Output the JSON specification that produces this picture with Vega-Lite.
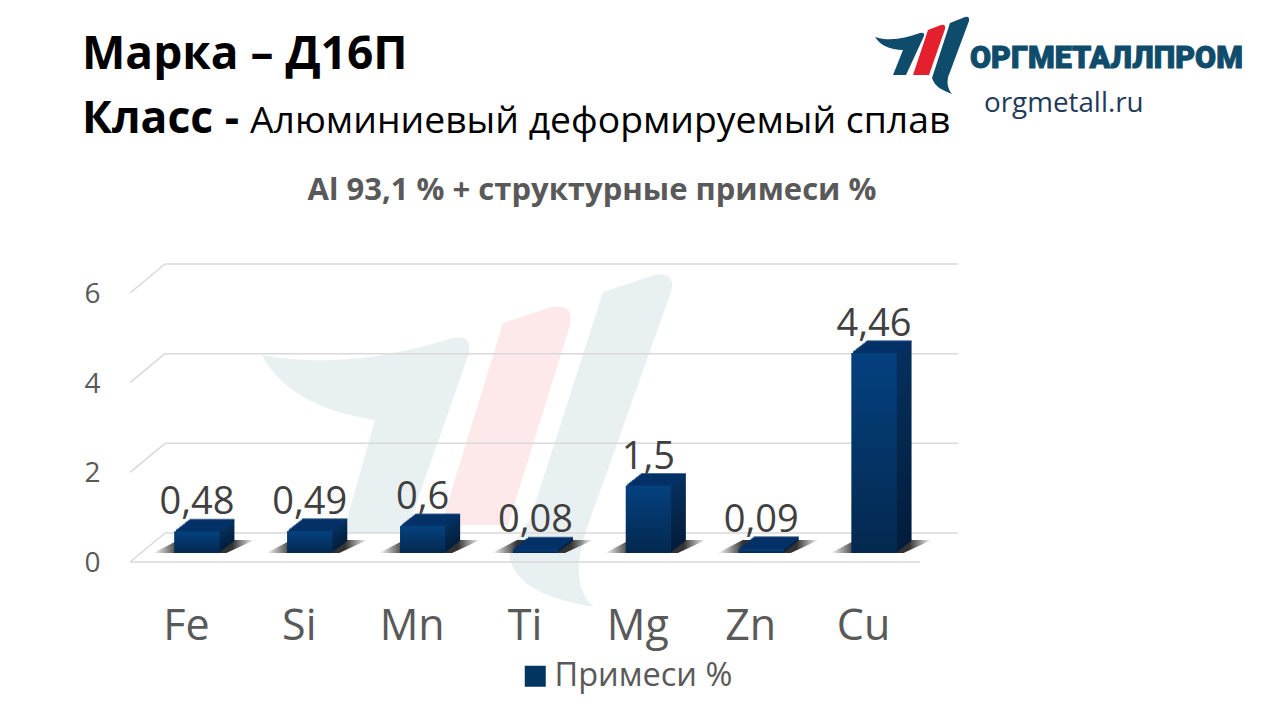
{"$schema":"https://vega.github.io/schema/vega-lite/v6.json","width":790,"height":269,"autosize":{"type":"none"},"padding":{"left":130,"top":293,"right":360,"bottom":158},"background":"#ffffff","view":{"stroke":null},
"datasets":{"d":[{"element":"Fe","value":0.48,"label":"0,48"},{"element":"Si","value":0.49,"label":"0,49"},{"element":"Mn","value":0.6,"label":"0,6"},{"element":"Ti","value":0.08,"label":"0,08"},{"element":"Mg","value":1.5,"label":"1,5"},{"element":"Zn","value":0.09,"label":"0,09"},{"element":"Cu","value":4.46,"label":"4,46"}],"g":[{"v":0},{"v":2},{"v":4},{"v":6}],"one":[{"k":1}]},
"data":{"name":"d"},
"encoding":{"x":{"field":"element","type":"nominal","sort":null,"title":null,"axis":{"labelAngle":0,"labelFontSize":43,"labelFont":"Open Sans","labelColor":"#595959","domain":false,"ticks":false,"grid":false,"labelBaseline":"alphabetic","labelPadding":77}},"y":{"field":"value","type":"quantitative","stack":null,"scale":{"domain":[0,6]},"title":null,"axis":{"values":[0,2,4,6],"labelFontSize":28,"labelFont":"Open Sans","labelColor":"#595959","domain":false,"ticks":false,"grid":false,"labelPadding":30,"labelOffset":1.5}}},
"layer":[
{"data":{"name":"one"},"mark":{"type":"point","filled":true,"opacity":1,"size":4,"color":"#e8f0f2","shape":"M262 355 C 330 368 400 355 452 338 Q 472 334 469 353 L 406 533 L 343 533 L 375 420 C 320 412 280 390 262 355 Z M603 292 L 655 275 Q 676 272 671 292 L 588 525 C 575 565 575 590 594 607 C 555 600 520 590 510 560 Q 507 550 530 520 Z"},"encoding":{"x":{"value":-130},"y":{"value":-293}}},
{"data":{"name":"one"},"mark":{"type":"point","filled":true,"opacity":1,"size":4,"color":"#fde9e9","shape":"M503 323 L 552 307 Q 574 303 570 325 L 508 525 L 441 525 Z"},"encoding":{"x":{"value":-130},"y":{"value":-293}}},
{"data":{"name":"one"},"mark":{"type":"point","filled":true,"opacity":1,"size":4,"color":"#0f4c6b","shape":"M875 37 C 890 42 905 38 920 33 Q 925 32 924 36 L 906 75 L 893 75 L 903 50 C 890 50 880 45 875 37 Z M950 23 L 965 17 Q 970 16 969 21 L 950 72 C 946 80 947 88 952 94 C 942 90 935 87 932 78 Z"},"encoding":{"x":{"value":-130},"y":{"value":-293}}},
{"data":{"name":"one"},"mark":{"type":"point","filled":true,"opacity":1,"size":4,"color":"#e5202e","shape":"M928 30 L 941 25 Q 946 24 945 29 L 929 75 L 913 75 Z"},"encoding":{"x":{"value":-130},"y":{"value":-293}}},
{"data":{"name":"g"},"mark":{"type":"rule","color":"#d9d9d9","strokeWidth":1.5,"yOffset":-29},"encoding":{"x":{"value":35},"x2":{"value":828},"y":{"field":"v","type":"quantitative"}}},
{"data":{"name":"g"},"mark":{"type":"rule","color":"#d9d9d9","strokeWidth":1.5,"y2Offset":-29},"encoding":{"x":{"value":0},"x2":{"value":35},"y":{"field":"v","type":"quantitative"},"y2":{"field":"v"}}},
{"data":{"values":[{"v":0}]},"mark":{"type":"rule","color":"#d9d9d9","strokeWidth":1.5},"encoding":{"x":{"value":0},"x2":{"value":790},"y":{"field":"v","type":"quantitative"}}},
{"mark":{"type":"point","filled":true,"opacity":1,"size":4,"shape":"M-33 -9 L 40 -9 L 68 -22 L -8 -22 Z","fill":{"gradient":"linear","x1":0,"y1":0,"x2":1,"y2":0,"stops":[{"offset":0,"color":"rgba(50,50,50,0)"},{"offset":0.25,"color":"#333333"},{"offset":0.78,"color":"#333333"},{"offset":1,"color":"rgba(50,50,50,0)"}]}},"encoding":{"y":{"datum":0}}},
{"mark":{"type":"bar","width":45,"xOffset":25.5,"yOffset":-20.7,"y2Offset":-20.7,"fill":{"gradient":"linear","x1":0,"y1":0,"x2":0,"y2":1,"stops":[{"offset":0,"color":"#06305e"},{"offset":1,"color":"#021d3b"}]}},"encoding":{"y2":{"datum":0}}},
{"mark":{"type":"tick","size":45,"thickness":2,"xOffset":25.5,"yOffset":-20.7,"color":"#04326a"}},
{"mark":{"type":"bar","width":45,"xOffset":24,"yOffset":-19.53,"y2Offset":-19.53,"fill":{"gradient":"linear","x1":0,"y1":0,"x2":0,"y2":1,"stops":[{"offset":0,"color":"#06305e"},{"offset":1,"color":"#021d3b"}]}},"encoding":{"y2":{"datum":0}}},
{"mark":{"type":"tick","size":45,"thickness":2,"xOffset":24,"yOffset":-19.53,"color":"#04326a"}},
{"mark":{"type":"bar","width":45,"xOffset":22.5,"yOffset":-18.36,"y2Offset":-18.36,"fill":{"gradient":"linear","x1":0,"y1":0,"x2":0,"y2":1,"stops":[{"offset":0,"color":"#06305e"},{"offset":1,"color":"#021d3b"}]}},"encoding":{"y2":{"datum":0}}},
{"mark":{"type":"tick","size":45,"thickness":2,"xOffset":22.5,"yOffset":-18.36,"color":"#04326a"}},
{"mark":{"type":"bar","width":45,"xOffset":21,"yOffset":-17.19,"y2Offset":-17.19,"fill":{"gradient":"linear","x1":0,"y1":0,"x2":0,"y2":1,"stops":[{"offset":0,"color":"#06305e"},{"offset":1,"color":"#021d3b"}]}},"encoding":{"y2":{"datum":0}}},
{"mark":{"type":"tick","size":45,"thickness":2,"xOffset":21,"yOffset":-17.19,"color":"#04326a"}},
{"mark":{"type":"bar","width":45,"xOffset":19.5,"yOffset":-16.02,"y2Offset":-16.02,"fill":{"gradient":"linear","x1":0,"y1":0,"x2":0,"y2":1,"stops":[{"offset":0,"color":"#06305e"},{"offset":1,"color":"#021d3b"}]}},"encoding":{"y2":{"datum":0}}},
{"mark":{"type":"tick","size":45,"thickness":2,"xOffset":19.5,"yOffset":-16.02,"color":"#04326a"}},
{"mark":{"type":"bar","width":45,"xOffset":18,"yOffset":-14.85,"y2Offset":-14.85,"fill":{"gradient":"linear","x1":0,"y1":0,"x2":0,"y2":1,"stops":[{"offset":0,"color":"#06305e"},{"offset":1,"color":"#021d3b"}]}},"encoding":{"y2":{"datum":0}}},
{"mark":{"type":"tick","size":45,"thickness":2,"xOffset":18,"yOffset":-14.85,"color":"#04326a"}},
{"mark":{"type":"bar","width":45,"xOffset":16.5,"yOffset":-13.68,"y2Offset":-13.68,"fill":{"gradient":"linear","x1":0,"y1":0,"x2":0,"y2":1,"stops":[{"offset":0,"color":"#06305e"},{"offset":1,"color":"#021d3b"}]}},"encoding":{"y2":{"datum":0}}},
{"mark":{"type":"tick","size":45,"thickness":2,"xOffset":16.5,"yOffset":-13.68,"color":"#04326a"}},
{"mark":{"type":"bar","width":45,"xOffset":15,"yOffset":-12.51,"y2Offset":-12.51,"fill":{"gradient":"linear","x1":0,"y1":0,"x2":0,"y2":1,"stops":[{"offset":0,"color":"#06305e"},{"offset":1,"color":"#021d3b"}]}},"encoding":{"y2":{"datum":0}}},
{"mark":{"type":"tick","size":45,"thickness":2,"xOffset":15,"yOffset":-12.51,"color":"#04326a"}},
{"mark":{"type":"bar","width":45,"xOffset":13.5,"yOffset":-11.34,"y2Offset":-11.34,"fill":{"gradient":"linear","x1":0,"y1":0,"x2":0,"y2":1,"stops":[{"offset":0,"color":"#06305e"},{"offset":1,"color":"#021d3b"}]}},"encoding":{"y2":{"datum":0}}},
{"mark":{"type":"tick","size":45,"thickness":2,"xOffset":13.5,"yOffset":-11.34,"color":"#04326a"}},
{"mark":{"type":"bar","width":45,"xOffset":12,"yOffset":-10.17,"y2Offset":-10.17,"fill":{"gradient":"linear","x1":0,"y1":0,"x2":0,"y2":1,"stops":[{"offset":0,"color":"#06305e"},{"offset":1,"color":"#021d3b"}]}},"encoding":{"y2":{"datum":0}}},
{"mark":{"type":"tick","size":45,"thickness":2,"xOffset":12,"yOffset":-10.17,"color":"#04326a"}},
{"mark":{"type":"bar","width":45,"xOffset":10.5,"yOffset":-9,"y2Offset":-9},"encoding":{"y2":{"datum":0},"color":{"datum":"Примеси %","scale":{"range":["#043561"]},"legend":{"title":null,"orient":"none","legendX":389,"legendY":367,"symbolType":"square","symbolSize":441,"symbolStrokeWidth":0,"labelFontSize":32.5,"labelLimit":400,"labelFont":"Open Sans","labelColor":"#595959","labelOffset":3,"padding":0}}}},
{"mark":{"type":"bar","width":45,"xOffset":10.5,"yOffset":-9,"y2Offset":-9,"fill":{"gradient":"linear","x1":0,"y1":0,"x2":0,"y2":1,"stops":[{"offset":0,"color":"#04417f"},{"offset":1,"color":"#04284f"}]}},"encoding":{"y2":{"datum":0}}},
{"mark":{"type":"text","xOffset":10.5,"yOffset":-26,"baseline":"alphabetic","align":"center","font":"Open Sans","fontSize":38,"color":"#404040"},"encoding":{"text":{"field":"label"}}},
{"data":{"values":[{"t":"Марка – Д16П"}]},"mark":{"type":"text","align":"left","baseline":"alphabetic","font":"Open Sans","fontWeight":"bold","fontSize":46,"color":"#000000"},"encoding":{"x":{"value":-48},"y":{"value":-224},"text":{"field":"t"}}},
{"data":{"values":[{"t":"Класс -"}]},"mark":{"type":"text","align":"left","baseline":"alphabetic","font":"Open Sans","fontWeight":"bold","fontSize":44.5,"color":"#000000"},"encoding":{"x":{"value":-48},"y":{"value":-160},"text":{"field":"t"}}},
{"data":{"values":[{"t":"Алюминиевый деформируемый сплав"}]},"mark":{"type":"text","align":"left","baseline":"alphabetic","font":"Open Sans","fontSize":37.3,"color":"#000000"},"encoding":{"x":{"value":120},"y":{"value":-160},"text":{"field":"t"}}},
{"data":{"values":[{"t":"Al 93,1 % + структурные примеси %"}]},"mark":{"type":"text","align":"center","baseline":"alphabetic","font":"Open Sans","fontWeight":"bold","fontSize":31,"color":"#595959"},"encoding":{"x":{"value":462},"y":{"value":-93},"text":{"field":"t"}}},
{"data":{"values":[{"t":"ОРГМЕТАЛЛПРОМ"}]},"mark":{"type":"text","align":"left","baseline":"alphabetic","font":"Roboto","fontWeight":900,"fontSize":30.5,"stroke":"#0f4c6b","strokeWidth":1,"color":"#0f4c6b"},"encoding":{"x":{"value":840},"y":{"value":-225},"text":{"field":"t"}}},
{"data":{"values":[{"t":"orgmetall.ru"}]},"mark":{"type":"text","align":"left","baseline":"alphabetic","font":"Open Sans","fontSize":27.8,"color":"#1f3a5a"},"encoding":{"x":{"value":854},"y":{"value":-181},"text":{"field":"t"}}}
]}
